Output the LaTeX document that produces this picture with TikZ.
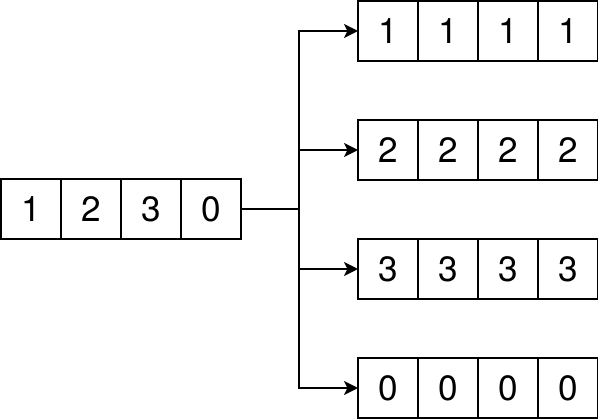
\documentclass[tikz,border=0pt]{standalone}
\usepackage{fontspec}
\setmainfont{TeX Gyre Heros}
\usetikzlibrary{arrows.meta,positioning}

\tikzset{
  cell/.style={draw, line width=1.3pt, outer sep=0pt, inner sep=0pt,
    minimum width=1.5cm, minimum height=1.5cm,
    font=\fontsize{25}{30}\selectfont},
  link/.style={line width=1.3pt},
  tip/.style={-{Stealth[length=10pt, width=10pt, inset=2.5pt]}},
}

\begin{document}
\begin{tikzpicture}[x=0.025cm, y=-0.025cm]
  %%%%% START %%%%%
  \useasboundingbox (0, 0) rectangle (598, 419);

  % input array
  \node[cell] (in1) at (31, 209) {1};
  \node[cell, right=0pt of in1] (in2) {2};
  \node[cell, right=0pt of in2] (in3) {3};
  \node[cell, right=0pt of in3] (in4) {0};

  \coordinate (split) at (299, 209);
  \draw[link] (in4.east) -- (split);

  % broadcast rows
  \foreach \v/\y in {1/31, 2/150, 3/269, 0/388} {
    \node[cell] (out\v1) at (388, \y) {\v};
    \node[cell, right=0pt of out\v1] (out\v2) {\v};
    \node[cell, right=0pt of out\v2] (out\v3) {\v};
    \node[cell, right=0pt of out\v3] (out\v4) {\v};
    \draw[link, tip] (split) |- (out\v1.west);
  }
  %%%%% END %%%%%
\end{tikzpicture}
\end{document}
